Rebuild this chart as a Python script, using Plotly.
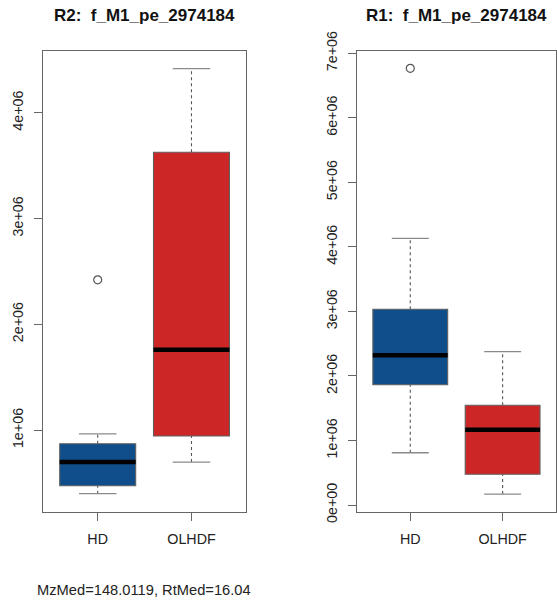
import plotly.graph_objects as go

# ---- data -------------------------------------------------------------
groups = ["HD", "OLHDF"]
group_pos = [1, 2]
fill_colors = ["#104E8B", "#CD2626"]

# R2 panel: box statistics per group (lower whisker, Q1, median, Q3, upper whisker)
r2_lower = [0.399e6, 0.698e6]
r2_q1 = [0.474e6, 0.944e6]
r2_median = [0.698e6, 1.759e6]
r2_q3 = [0.871e6, 3.626e6]
r2_upper = [0.965e6, 4.416e6]
r2_outliers = [[2.42e6], []]

# R1 panel
r1_lower = [0.810e6, 0.170e6]
r1_q1 = [1.864e6, 0.476e6]
r1_median = [2.320e6, 1.167e6]
r1_q3 = [3.033e6, 1.545e6]
r1_upper = [4.133e6, 2.376e6]
r1_outliers = [[6.767e6], []]

r2_ticks = [1e6, 2e6, 3e6, 4e6]
r2_ticktext = ["1e+06", "2e+06", "3e+06", "4e+06"]
r1_ticks = [0, 1e6, 2e6, 3e6, 4e6, 5e6, 6e6, 7e6]
r1_ticktext = ["0e+00", "1e+06", "2e+06", "3e+06", "4e+06", "5e+06", "6e+06", "7e+06"]

r2_title = "R2:\u00a0 f_M1_pe_2974184"
r1_title = "R1:\u00a0 f_M1_pe_2974184"
footer = "MzMed=148.0119, RtMed=16.04"

# ---- drawing helpers --------------------------------------------------
W, H = 557, 600
FONT = "Liberation Sans, Arial, Helvetica, sans-serif"
BOX_HALF = 0.405
CAP_HALF = 0.2


def box_shapes(xr, yr, lower, q1, med, q3, upper):
    shapes = []
    for i, x in enumerate(group_pos):
        # whiskers (dashed)
        for a, b in ((q3[i], upper[i]), (lower[i], q1[i])):
            shapes.append(dict(type="line", xref=xr, yref=yr, x0=x, x1=x, y0=a, y1=b,
                               line=dict(color="#555555", width=1.1, dash="3px,3px")))
        # whisker caps
        for v in (lower[i], upper[i]):
            shapes.append(dict(type="line", xref=xr, yref=yr, x0=x - CAP_HALF, x1=x + CAP_HALF,
                               y0=v, y1=v, line=dict(color="#8a8a8a", width=1.3)))
        # box
        shapes.append(dict(type="rect", xref=xr, yref=yr, x0=x - BOX_HALF, x1=x + BOX_HALF,
                           y0=q1[i], y1=q3[i], fillcolor=fill_colors[i],
                           line=dict(color="#606060", width=1.1), layer="above"))
        # median
        shapes.append(dict(type="line", xref=xr, yref=yr, x0=x - BOX_HALF, x1=x + BOX_HALF,
                           y0=med[i], y1=med[i], line=dict(color="black", width=4.5)))
    return shapes


fig = go.Figure()

for xa, ya, outl in (("x", "y", r2_outliers), ("x2", "y2", r1_outliers)):
    xs, ys = [], []
    for i, vals in enumerate(outl):
        xs += [group_pos[i]] * len(vals)
        ys += vals
    fig.add_trace(go.Scatter(
        x=xs, y=ys, xaxis=xa, yaxis=ya, mode="markers", showlegend=False,
        marker=dict(symbol="circle-open", size=8, color="#555555", line=dict(width=1.2)),
        hoverinfo="skip"))

shapes = box_shapes("x", "y", r2_lower, r2_q1, r2_median, r2_q3, r2_upper)
shapes += box_shapes("x2", "y2", r1_lower, r1_q1, r1_median, r1_q3, r1_upper)

ydom = [(H - 511.5) / H, (H - 51) / H]
xdom1 = [43.3 / W, 245.7 / W]
xdom2 = [356.7 / W, 556.0 / W]

common_x = dict(
    range=[0.42, 2.578], tickvals=group_pos, ticktext=groups, ticks="outside", ticklen=8,
    tickcolor="#666666", tickwidth=1.2, showgrid=False, zeroline=False,
    showline=True, mirror=True, linecolor="#666666", linewidth=1.3, automargin=False,
    ticklabelstandoff=6,
    tickfont=dict(family=FONT, size=14.3, color="#222222"), fixedrange=True,
)
common_y = dict(
    ticks="outside", ticklen=8, tickcolor="#666666", tickwidth=1.2, tickangle=-90,
    showgrid=False, zeroline=False, showline=True, mirror=True, automargin=False,
    linecolor="#666666", linewidth=1.3, ticklabelstandoff=5,
    tickfont=dict(family=FONT, size=14.3, color="#222222"), fixedrange=True,
)

fig.update_layout(
    width=W, height=H,
    margin=dict(l=0, r=0, t=0, b=0, autoexpand=False),
    paper_bgcolor="white", plot_bgcolor="white",
    showlegend=False,
    xaxis=dict(domain=xdom1, anchor="y", **common_x),
    yaxis=dict(domain=ydom, anchor="x", range=[0.231e6, 4.583e6],
               tickvals=r2_ticks, ticktext=r2_ticktext, **common_y),
    xaxis2=dict(domain=xdom2, anchor="y2", **common_x),
    yaxis2=dict(domain=ydom, anchor="x2", range=[-0.1007e6, 7.036e6],
                tickvals=r1_ticks, ticktext=r1_ticktext, **common_y),
    shapes=shapes,
    annotations=[
        dict(text="<b>" + r2_title + "</b>", xref="x domain", yref="paper", x=0.5,
             y=1 - 15 / H, xanchor="center", yanchor="middle", showarrow=False,
             font=dict(family=FONT, size=17, color="#111111")),
        dict(text="<b>" + r1_title + "</b>", xref="x2 domain", yref="paper", x=0.5,
             y=1 - 15 / H, xanchor="center", yanchor="middle", showarrow=False,
             font=dict(family=FONT, size=17, color="#111111")),
        dict(text=footer, xref="paper", yref="paper", x=35 / W, y=1 - 590 / H,
             xanchor="left", yanchor="middle", showarrow=False,
             font=dict(family=FONT, size=14.7, color="#222222")),
    ],
)

fig.write_html("out.html")
